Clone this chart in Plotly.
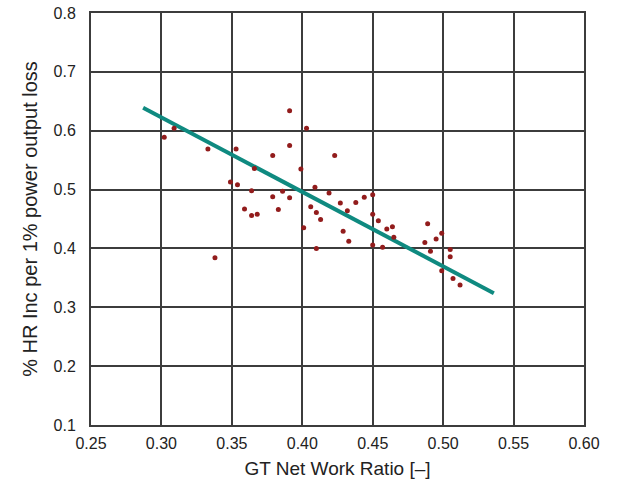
import plotly.graph_objects as go

# Scatter data: GT net work ratio vs % HR increase per 1% power output loss
work_ratio = [0.302, 0.309, 0.333, 0.353, 0.338, 0.349, 0.354, 0.364, 0.359, 0.364,
              0.368, 0.366, 0.379, 0.379, 0.383, 0.386, 0.391, 0.391, 0.391, 0.399,
              0.401, 0.403, 0.406, 0.409, 0.410, 0.413, 0.410, 0.419, 0.423, 0.427,
              0.429, 0.432, 0.433, 0.438, 0.444, 0.450, 0.450, 0.450, 0.454, 0.457,
              0.460, 0.464, 0.465, 0.487, 0.489, 0.491, 0.495, 0.499, 0.499, 0.505,
              0.505, 0.507, 0.512]
hr_increase = [0.589, 0.604, 0.569, 0.569, 0.384, 0.513, 0.508, 0.498, 0.467, 0.456,
               0.458, 0.536, 0.558, 0.488, 0.466, 0.497, 0.575, 0.634, 0.486, 0.535,
               0.435, 0.604, 0.471, 0.504, 0.461, 0.449, 0.400, 0.494, 0.558, 0.477,
               0.429, 0.464, 0.412, 0.478, 0.487, 0.491, 0.458, 0.406, 0.447, 0.402,
               0.433, 0.437, 0.419, 0.410, 0.442, 0.395, 0.416, 0.426, 0.362, 0.398,
               0.386, 0.349, 0.338]

# Trend line endpoints
fit_x = [0.287, 0.536]
fit_y = [0.639, 0.324]

x_ticks = [0.25, 0.30, 0.35, 0.40, 0.45, 0.50, 0.55, 0.60]
y_ticks = [0.1, 0.2, 0.3, 0.4, 0.5, 0.6, 0.7, 0.8]

FONT = "Liberation Sans, Arial, sans-serif"

fig = go.Figure()
fig.add_trace(go.Scatter(
    x=fit_x, y=fit_y, mode="lines",
    line=dict(color="#0f8a80", width=4),
    showlegend=False, hoverinfo="skip"))
fig.add_trace(go.Scatter(
    x=work_ratio, y=hr_increase, mode="markers",
    marker=dict(color="#921c1c", size=5),
    showlegend=False))

axis_common = dict(
    showgrid=True, gridcolor="#3c3c3c", gridwidth=2,
    showline=True, linecolor="#3c3c3c", linewidth=2, mirror=True,
    zeroline=False, ticks="", automargin=False,
    ticklabeloverflow="allow",
    tickfont=dict(family=FONT, size=16, color="#222"),
)

fig.update_xaxes(
    range=[0.25, 0.60], tickvals=x_ticks,
    ticktext=[f"{v:.2f}" for v in x_ticks],
    ticklabelstandoff=3,
    title=dict(text="GT Net Work Ratio [–]",
               font=dict(family=FONT, size=19, color="#222"),
               standoff=10),
    **axis_common)
fig.update_yaxes(
    range=[0.1, 0.8], tickvals=y_ticks,
    ticktext=[f"{v:.1f}" for v in y_ticks],
    ticklabelstandoff=10,
    title=dict(text="% HR Inc per 1% power output loss",
               font=dict(family=FONT, size=20, color="#222"),
               standoff=11),
    **axis_common)

fig.update_layout(
    width=621, height=481,
    margin=dict(l=91, r=37, t=13, b=56),
    plot_bgcolor="white", paper_bgcolor="white",
)

# remove the default page margin so the figure fills the window exactly
fig.write_html("out.html", config={"displayModeBar": False},
               post_script="document.body.style.margin='0';")
